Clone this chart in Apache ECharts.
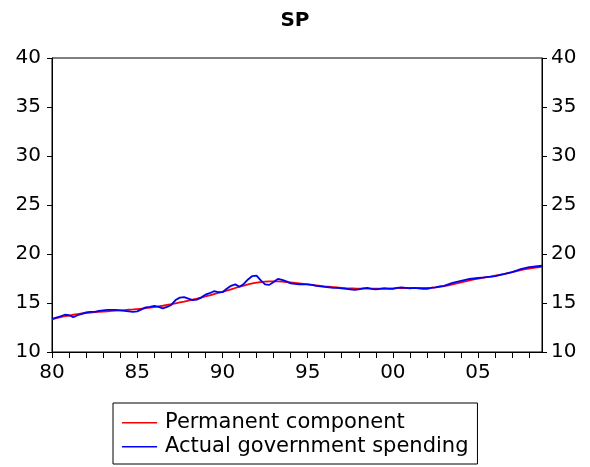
<!DOCTYPE html>
<html>
<head>
<meta charset="utf-8">
<script src="https://cdn.jsdelivr.net/npm/echarts@6/dist/echarts.min.js"></script>
<style>
  html, body { margin: 0; padding: 0; background: #fff; }
  #chart { width: 590px; height: 467px; }
</style>
</head>
<body>
<div id="chart"></div>
<script>
// Government spending share (SP), quarterly 1980Q1 - 2008Q4
const firstYear = 1980;
const lastYear = 2008;

// Year tick labels shown every five years
const yearLabels = ['80', '85', '90', '95', '00', '05'];

// Permanent component of spending, one value per quarter
const permanent = [
  13.35, 13.45, 13.55, 13.65,
  13.72, 13.80, 13.87, 13.93,
  13.98, 14.03, 14.07, 14.10,
  14.13, 14.16, 14.19, 14.22,
  14.25, 14.28, 14.31, 14.34,
  14.38, 14.42, 14.47, 14.52,
  14.58, 14.65, 14.72, 14.80,
  14.88, 14.97, 15.06, 15.15,
  15.25, 15.35, 15.45, 15.56,
  15.67, 15.78, 15.90, 16.02,
  16.14, 16.27, 16.40, 16.53,
  16.66, 16.78, 16.90, 17.00,
  17.08, 17.14, 17.18, 17.20,
  17.21, 17.20, 17.18, 17.14,
  17.10, 17.05, 17.00, 16.95,
  16.90, 16.85, 16.80, 16.75,
  16.70, 16.66, 16.62, 16.58,
  16.55, 16.52, 16.50, 16.48,
  16.47, 16.46, 16.46, 16.46,
  16.46, 16.47, 16.48, 16.49,
  16.50, 16.51, 16.52, 16.53,
  16.53, 16.53, 16.53, 16.53,
  16.54, 16.56, 16.60, 16.65,
  16.72, 16.80, 16.90, 17.00,
  17.10, 17.20, 17.30, 17.40,
  17.48, 17.56, 17.63, 17.70,
  17.78, 17.86, 17.95, 18.05,
  18.15, 18.25, 18.35, 18.45,
  18.52, 18.58, 18.64, 18.70
];

// Actual government spending, one value per quarter
const actual = [
  13.35, 13.50, 13.65, 13.80,
  13.75, 13.55, 13.75, 13.90,
  14.05, 14.10, 14.10, 14.20,
  14.25, 14.30, 14.30, 14.30,
  14.25, 14.20, 14.15, 14.10,
  14.15, 14.35, 14.55, 14.60,
  14.70, 14.60, 14.45, 14.60,
  14.80, 15.30, 15.55, 15.60,
  15.45, 15.30, 15.35, 15.55,
  15.85, 16.00, 16.20, 16.10,
  16.10, 16.45, 16.75, 16.90,
  16.65, 16.95, 17.40, 17.75,
  17.80, 17.30, 16.90, 16.85,
  17.15, 17.45, 17.35, 17.20,
  17.00, 16.95, 16.90, 16.90,
  16.90, 16.85, 16.75, 16.70,
  16.65, 16.60, 16.55, 16.55,
  16.50, 16.45, 16.40, 16.35,
  16.40, 16.50, 16.55, 16.45,
  16.40, 16.45, 16.50, 16.45,
  16.45, 16.55, 16.60, 16.55,
  16.50, 16.55, 16.50, 16.45,
  16.45, 16.55, 16.60, 16.70,
  16.75, 16.90, 17.05, 17.15,
  17.25, 17.35, 17.45, 17.50,
  17.55, 17.60, 17.65, 17.70,
  17.75, 17.85, 17.95, 18.05,
  18.15, 18.30, 18.45, 18.55,
  18.65, 18.70, 18.75, 18.80
];

// Series names and colours
const seriesNames = ['Permanent component', 'Actual government spending'];
const seriesColors = ['#FF0000', '#0000FF'];

// Quarter categories along the time axis
const quarters = [];
for (let y = firstYear; y <= lastYear; y++) {
  for (let q = 1; q <= 4; q++) quarters.push(y + 'Q' + q);
}

const font = 'DejaVu Sans';
const yAxisCommon = {
  type: 'value',
  min: 10,
  max: 40,
  interval: 5,
  splitLine: { show: false },
  axisLine: { show: true, lineStyle: { color: '#000', width: 1 } },
  axisTick: { show: true, inside: false, length: 5, lineStyle: { color: '#000' } },
  axisLabel: { color: '#000', fontFamily: font, fontSize: 20, margin: 11 }
};

// Legend key: a thin horizontal bar centred in a 35x20 box
// (the zero-length segments at the corners fix the box size)
const keyIcon = 'path://M0,0 L0,0 M35,20 L35,20 M0,9.6 L35,9.6 L35,10.9 L0,10.9 Z';

const chart = echarts.init(document.getElementById('chart'), null, { renderer: 'canvas' });
chart.setOption({
  animation: false,
  backgroundColor: '#fff',
  title: {
    text: 'SP',
    left: 'center',
    top: 6,
    textStyle: { fontFamily: font, fontSize: 20, fontWeight: 'bold', color: '#000' }
  },
  grid: {
    left: 52, right: 48, top: 58, bottom: 115,
    show: true, borderColor: '#000', borderWidth: 1,
    containLabel: false
  },
  legend: {
    orient: 'vertical',
    left: 113,
    top: 403,
    padding: [9, 9, 7, 9],
    itemGap: 3,
    itemWidth: 35,
    itemHeight: 20,
    icon: keyIcon,
    borderColor: '#000',
    borderWidth: 1,
    borderRadius: 0,
    backgroundColor: '#fff',
    textStyle: { fontFamily: font, fontSize: 21, lineHeight: 20, color: '#000', padding: [0, 0, 0, 3] },
    data: seriesNames
  },
  xAxis: {
    type: 'category',
    data: quarters,
    boundaryGap: false,
    axisLine: { show: true, lineStyle: { color: '#000', width: 1 } },
    axisTick: {
      show: true,
      length: 6,
      interval: function (index) { return index % 4 === 0; },
      lineStyle: { color: '#000' }
    },
    axisLabel: {
      color: '#000',
      fontFamily: font,
      fontSize: 20,
      margin: 11,
      interval: function (index) { return index % 20 === 0; },
      formatter: function (value, index) { return yearLabels[index / 20]; }
    },
    splitLine: { show: false }
  },
  yAxis: [
    Object.assign({}, yAxisCommon, { position: 'left' }),
    Object.assign({}, yAxisCommon, { position: 'right', axisLabel: Object.assign({}, yAxisCommon.axisLabel, { margin: 9 }) })
  ],
  series: [
    {
      name: seriesNames[0],
      type: 'line',
      data: permanent,
      symbol: 'none',
      smooth: false,
      color: seriesColors[0],
      lineStyle: { color: seriesColors[0], width: 1.8 },
      itemStyle: { color: seriesColors[0] },
      z: 2
    },
    {
      name: seriesNames[1],
      type: 'line',
      data: actual,
      symbol: 'none',
      smooth: false,
      color: seriesColors[1],
      lineStyle: { color: seriesColors[1], width: 1.8 },
      itemStyle: { color: seriesColors[1] },
      z: 3
    }
  ]
});
</script>
</body>
</html>
